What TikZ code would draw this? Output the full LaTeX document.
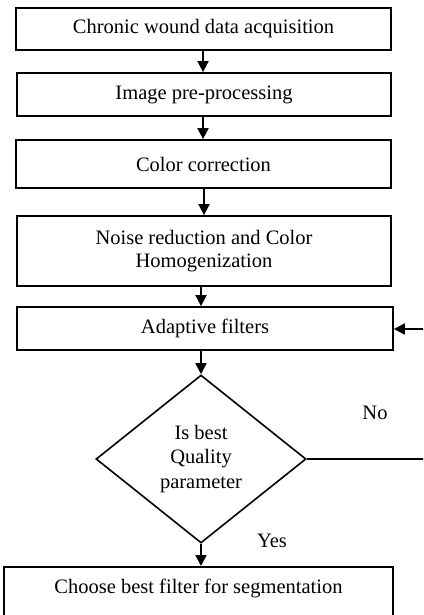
\documentclass[tikz,border=0pt]{standalone}
\usepackage{fontspec}
\setmainfont{Liberation Serif}
\usetikzlibrary{shapes.geometric,arrows.meta}
\begin{document}
\begin{tikzpicture}[x=1pt,y=-1pt,
  stepbox/.style={draw,line width=1.8pt,rectangle,inner sep=0pt,align=center,
    font=\fontsize{20.5}{23}\selectfont},
  decide/.style={draw,line width=1.6pt,diamond,inner sep=0pt,align=center,
    font=\fontsize{20.5}{24.5}\selectfont},
  arr/.style={line width=1.9pt,-{Triangle[length=11pt,width=11pt]}},
  conn/.style={line width=1.9pt},
  lbl/.style={font=\fontsize{20.5}{23}\selectfont,inner sep=0pt}]
\useasboundingbox (0,0) rectangle (423,615);
\clip (0,0) rectangle (423,615);
\node[stepbox,minimum width=375pt,minimum height=42pt] (b1) at (203.5,29) {Chronic wound data acquisition};
\node[stepbox,minimum width=374pt,minimum height=43pt] (b2) at (204,94.5) {Image pre-processing};
\node[stepbox,minimum width=375pt,minimum height=48pt] (b3) at (203.5,164) {Color correction};
\node[stepbox,minimum width=374pt,minimum height=70pt] (b4) at (204,251) {Noise reduction and Color\\Homogenization};
\node[stepbox,minimum width=376pt,minimum height=43pt] (b5) at (205,328.5) {Adaptive filters};
\node[decide,minimum width=210pt,minimum height=168pt] (d) at (201,459) {Is best\\Quality\\parameter};
\node[stepbox,anchor=north,minimum width=389pt,text height=27pt,text depth=50pt] (b6) at (198.5,566) {Choose best filter for segmentation};
\coordinate (r1) at (426,459);
\coordinate (r2) at (426,329);
\node[lbl] (no) at (375,413) {No};
\node[lbl] (yes) at (272,541) {Yes};
\draw[arr] (b1.south -| 203,0) -- (b2.north -| 203,0);
\draw[arr] (b2.south -| 203,0) -- (b3.north -| 203,0);
\draw[arr] (b3.south -| 204,0) -- (b4.north -| 204,0);
\draw[arr] (b4.south -| d.north) -- (b5.north -| d.north);
\draw[arr] (b5.south -| d.north) -- (d.north);
\draw[arr] (d.south) -- (b6.north -| d.south);
\draw[conn] (d.east) -- (r1);
\draw[arr] (r2) -- (b5.east |- r2);
\end{tikzpicture}
\end{document}
